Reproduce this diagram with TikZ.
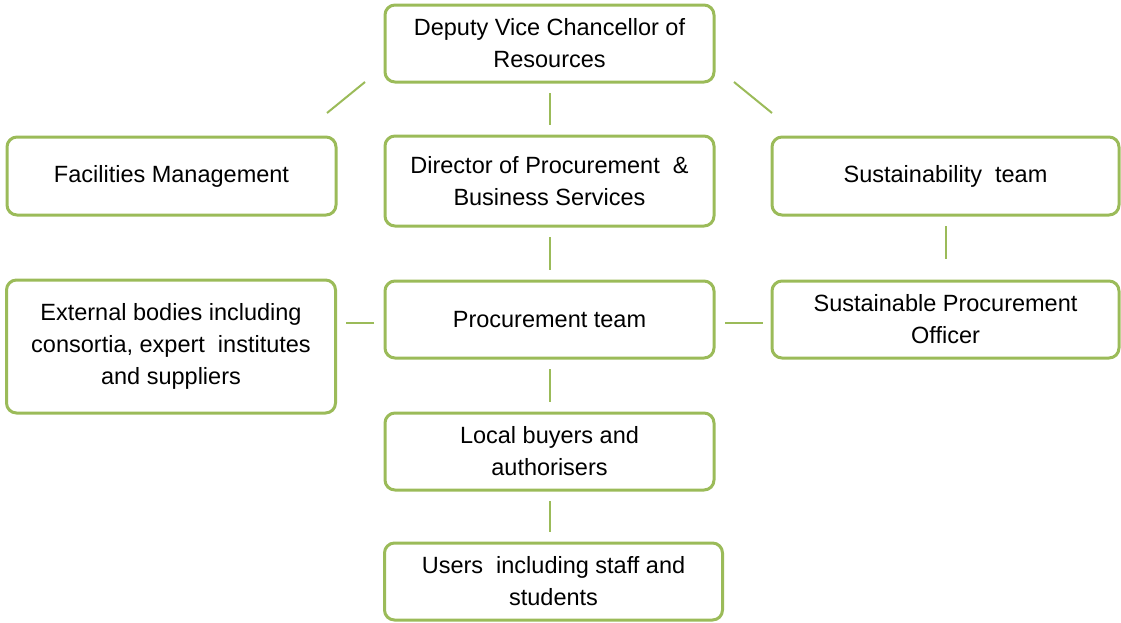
\documentclass[tikz,border=0pt]{standalone}
\usepackage{fontspec}
\setmainfont{Liberation Sans}

\definecolor{leaf}{HTML}{9BBB59}

\tikzset{
  unit/.style={draw=leaf, line width=3pt, rounded corners=10pt, outer sep=0pt,
               minimum width=329pt, minimum height=77pt, align=center,
               font=\fontsize{23.5}{32}\selectfont},
  link/.style={draw=leaf, line width=2pt, shorten <=11pt, shorten >=11pt}
}

\begin{document}
\begin{tikzpicture}[x=1pt,y=1pt]
  \useasboundingbox (0,0) rectangle (1121,-622);

  % top of the tree
  \node [unit] (dvc) at (549.5,-43.5) {Deputy Vice Chancellor of\\Resources};

  % second row
  \node [unit, minimum height=78pt]  (fac) at (171.5,-176) {Facilities Management};
  \node [unit, minimum height=90pt]  (dir) at (549.5,-181) {Director of Procurement~ \&\\Business Services};
  \node [unit, minimum width=347pt, minimum height=78pt] (sus) at (945.5,-176) {Sustainability~ team};

  % third row
  \node [unit, minimum height=133pt] (ext)  at (171,-346.5) {External bodies including\\consortia, expert~ institutes\\and suppliers};
  \node [unit]                       (proc) at (549.5,-319.5) {Procurement team};
  \node [unit, minimum width=347pt]  (spo)  at (945.5,-319.5) {Sustainable Procurement\\Officer};

  % lower part
  \node [unit] (local) at (549.5,-451.5) {Local buyers and\\authorisers};
  \node [unit, minimum width=338pt] (users) at (553.5,-581.5) {Users~ including staff and\\students};

  % connectors
  \draw [link] (dvc) -- (dir);
  \draw [link, shorten <=0pt, shorten >=0pt]
    ([xshift=-20pt]dvc.south west) -- ([xshift=-9pt,yshift=24pt]fac.north east);
  \draw [link, shorten <=0pt, shorten >=0pt]
    ([xshift=20pt]dvc.south east) -- ([yshift=24pt]sus.north west);
  \draw [link] (dir) -- (proc);
  \draw [link, shorten >=22pt] (sus) -- (spo);
  \draw [link, shorten >=10pt] ([yshift=-3pt]proc.west) -- ([yshift=-3pt]proc.west -| ext.east);
  \draw [link, shorten >=9pt] ([yshift=-3pt]proc.east) -- ([yshift=-3pt]proc.east -| spo.west);
  \draw [link] (proc) -- (local);
  \draw [link] (local.south) -- (local.south |- users.north);

\end{tikzpicture}
\end{document}
